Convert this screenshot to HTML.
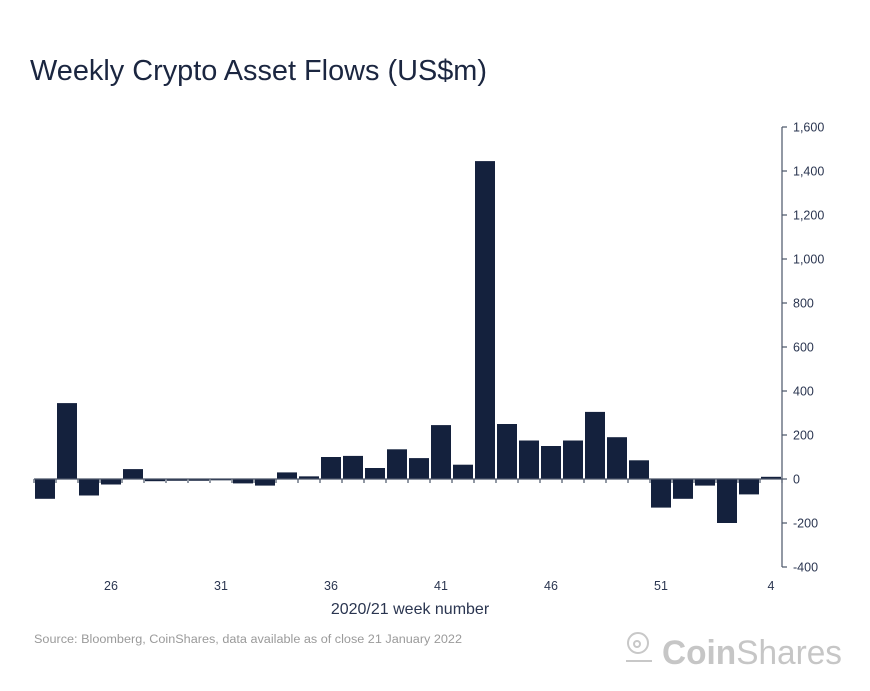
<!DOCTYPE html>
<html><head><meta charset="utf-8"><style>
html,body{margin:0;padding:0;background:#fff;}
svg{display:block;font-family:"Liberation Sans",sans-serif;}
</style></head><body>
<svg id="chart" width="870" height="691" viewBox="0 0 870 691">
<text x="30" y="80" font-size="29" fill="#1b2640" textLength="457" lengthAdjust="spacingAndGlyphs">Weekly Crypto Asset Flows (US$m)</text>
<g id="bars"></g>
<g id="axes"></g>
<text x="410" y="614" font-size="16" fill="#2a3550" text-anchor="middle">2020/21 week number</text>
<text x="34" y="643" font-size="11.5" fill="#9a9a9a" textLength="428" lengthAdjust="spacingAndGlyphs">Source: Bloomberg, CoinShares, data available as of close 21 January 2022</text>
<g>
<circle cx="638" cy="643" r="10" fill="none" stroke="#c8c8c8" stroke-width="2"/>
<circle cx="637" cy="644" r="3" fill="none" stroke="#c8c8c8" stroke-width="2"/>
<line x1="626" y1="661" x2="652" y2="661" stroke="#c8c8c8" stroke-width="2"/>
<text x="662" y="664" font-size="34" fill="#c6c6c6" textLength="180" lengthAdjust="spacingAndGlyphs"><tspan font-weight="bold">Coin</tspan>Shares</text>
</g>
</svg>
<script>
const weeks = ["23","24","25","26","27","28","29","30","31","32","33","34","35","36","37","38","39","40","41","42","43","44","45","46","47","48","49","50","51","52","1","2","3","4"];
const flows = [-90,345,-75,-25,45,-10,-8,-8,-6,-20,-30,30,12,100,105,50,135,95,245,65,1445,250,175,150,175,305,190,85,-130,-90,-30,-200,-70,10];
const yTicks = [-400,-200,0,200,400,600,800,1000,1200,1400,1600];
const xLabelWeeks = ["26","31","36","41","46","51","4"];
const NS="http://www.w3.org/2000/svg";
const x0=34, step=22, axisX=782;
function yScale(v){return 479 - v*0.22;}
function xScale(i){return x0 + i*step;}
const bars=document.getElementById('bars');
flows.forEach((v,i)=>{
  const r=document.createElementNS(NS,'rect');
  r.setAttribute('x',xScale(i)+1);
  r.setAttribute('width',step-2);
  r.setAttribute('y',Math.min(yScale(v),yScale(0)));
  r.setAttribute('height',Math.abs(yScale(v)-yScale(0)));
  r.setAttribute('fill','#14213d');
  
  
  bars.appendChild(r);
});
const ax=document.getElementById('axes');
function line(x1,y1,x2,y2,name){
  const l=document.createElementNS(NS,'line');
  l.setAttribute('x1',x1);l.setAttribute('y1',y1);l.setAttribute('x2',x2);l.setAttribute('y2',y2);
  l.setAttribute('stroke','#4a5568');l.setAttribute('stroke-width','1.2');
  
  
  ax.appendChild(l);
}
line(x0,yScale(0),axisX,yScale(0),'x-axis-line');
for(let i=0;i<=weeks.length;i++){line(xScale(i),yScale(0),xScale(i),yScale(0)+4,'x-tick');}
line(axisX,yScale(1600),axisX,yScale(-400),'y-axis-line');
yTicks.forEach(t=>{
  line(axisX,yScale(t),axisX+5,yScale(t),'y-tick');
  const tx=document.createElementNS(NS,'text');
  tx.setAttribute('x',axisX+11);tx.setAttribute('y',yScale(t)+4.5);
  tx.setAttribute('font-size','12.5');tx.setAttribute('fill','#2a3550');
  tx.textContent=t.toLocaleString('en-US');
  
  
  ax.appendChild(tx);
});
xLabelWeeks.forEach(w=>{
  const i=weeks.indexOf(w);
  const tx=document.createElementNS(NS,'text');
  tx.setAttribute('x',xScale(i)+step/2);tx.setAttribute('y',590);
  tx.setAttribute('font-size','12.5');tx.setAttribute('fill','#2a3550');
  tx.setAttribute('text-anchor','middle');
  tx.textContent=w;
  
  
  ax.appendChild(tx);
});
</script>
</body></html>
